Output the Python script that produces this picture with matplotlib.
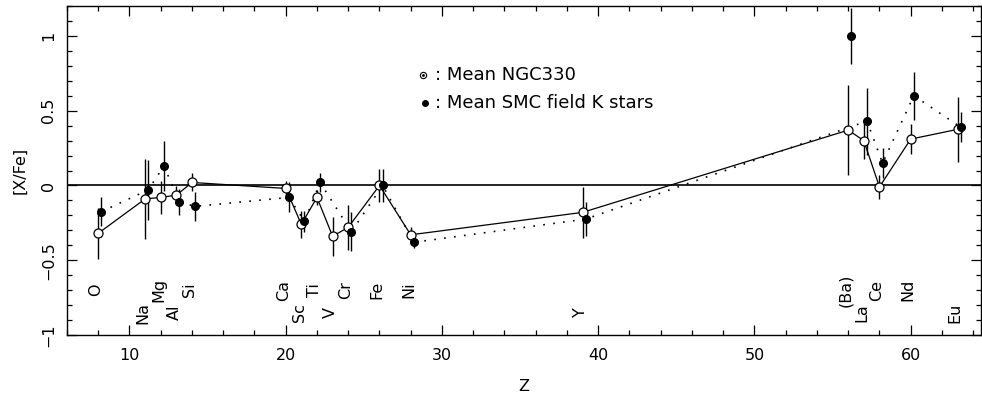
import matplotlib
matplotlib.use("Agg")
import matplotlib.pyplot as plt
from matplotlib.ticker import MultipleLocator, FixedLocator, FixedFormatter

plt.rcParams['font.family'] = ['DejaVu Sans']

# ---- data ----
z_ngc330 = [8, 11, 12, 13, 14, 20, 21, 22, 23, 24, 26, 28, 39, 56, 57, 58, 60, 63]
xfe_ngc330 = [-0.32, -0.09, -0.08, -0.065, 0.02, -0.02, -0.26, -0.08, -0.34, -0.28,
              0.0, -0.33, -0.18, 0.37, 0.30, -0.01, 0.31, 0.375]
err_ngc330 = [0.17, 0.27, 0.11, 0.06, 0.06, 0.05, 0.09, 0.05, 0.13, 0.15,
              0.11, 0.05, 0.17, 0.30, 0.12, 0.08, 0.10, 0.215]

z_smc = [8, 11, 12, 13, 14, 20, 21, 22, 24, 26, 28, 39, 56, 57, 58, 60, 63]
xfe_smc = [-0.175, -0.03, 0.13, -0.11, -0.14, -0.08, -0.24, 0.02, -0.31,
           0.0, -0.38, -0.225, 1.0, 0.43, 0.15, 0.60, 0.39]
err_smc = [0.095, 0.20, 0.17, 0.085, 0.095, 0.10, 0.07, 0.065, 0.13,
           0.11, 0.04, 0.115, 0.185, 0.225, 0.10, 0.16, 0.10]
# Ba (Z=56) of the field stars is not joined by the dotted line
smc_joined = [True, True, True, True, True, True, True, True, True,
              True, True, True, False, True, True, True, True]

element_names = ['O', 'Na', 'Mg', 'Al', 'Si', 'Ca', 'Sc', 'Ti', 'V', 'Cr', 'Fe',
                 'Ni', 'Y', '(Ba)', 'La', 'Ce', 'Nd', 'Eu']
element_z = [8, 11, 12, 13, 14, 20, 21, 22, 23, 24, 26, 28, 39, 56, 57, 58, 60, 63]
element_row = [0, 1, 0, 1, 0, 0, 1, 0, 1, 0, 0, 0, 1, 0, 1, 0, 0, 1]

ytick_vals = [-1, -0.5, 0, 0.5, 1]
ytick_labels = ['\u22121', '\u22120.5', '0', '0.5', '1']
xtick_vals = [10, 20, 30, 40, 50, 60]
xtick_labels = ['10', '20', '30', '40', '50', '60']

legend_labels = [': Mean NGC330', ': Mean SMC field K stars']

# ---- figure ----
fig = plt.figure(figsize=(9.82, 4.04), dpi=100)
ax = fig.add_axes([67/982, 69/404, 914/982, 329/404])

smc_offset = 0.2
x_smc = [z + smc_offset for z in z_smc]

ax.axhline(0, color='black', lw=1.2, zorder=1)

# NGC330 (open circles, solid line)
ax.errorbar(z_ngc330, xfe_ngc330, yerr=err_ngc330, fmt='none', ecolor='black',
            elinewidth=1.0, capsize=0, zorder=2)
ax.plot(z_ngc330, xfe_ngc330, '-', color='black', lw=0.9, zorder=2)
ax.plot(z_ngc330, xfe_ngc330, 'o', ms=6.5, mfc='white', mec='black', mew=0.9, zorder=3)

# SMC field K stars (filled circles, dotted line)
ax.errorbar(x_smc, xfe_smc, yerr=err_smc, fmt='none', ecolor='black',
            elinewidth=1.0, capsize=0, zorder=2)
xj = [x for x, j in zip(x_smc, smc_joined) if j]
yj = [y for y, j in zip(xfe_smc, smc_joined) if j]
ax.plot(xj, yj, linestyle=(0, (1, 5)), color='black', lw=1.2, zorder=2)
ax.plot(x_smc, xfe_smc, 'o', ms=5.5, mfc='black', mec='black', zorder=4)

# element labels
row_y = {0: -0.70, 1: -0.85}
for name, z, r in zip(element_names, element_z, element_row):
    ax.text(z - 0.15, row_y[r], name, rotation=90, ha='center', va='center',
            fontsize=11.5, color='black')

# legend (manual)
ax.plot([0.3895], [0.790], 'o', ms=4.5, mfc='white', mec='black', mew=0.8,
        transform=ax.transAxes)
ax.plot([0.3895], [0.790], 'o', ms=1.0, color='black', transform=ax.transAxes)
ax.plot([0.392], [0.705], 'o', ms=4.0, color='black', transform=ax.transAxes)
ax.text(0.4026, 0.790, legend_labels[0], transform=ax.transAxes, va='center',
        ha='left', fontsize=13)
ax.text(0.4026, 0.705, legend_labels[1], transform=ax.transAxes, va='center',
        ha='left', fontsize=13)

ax.set_xlim(6, 64.5)
ax.set_ylim(-1, 1.2)

ax.xaxis.set_major_locator(FixedLocator(xtick_vals))
ax.xaxis.set_major_formatter(FixedFormatter(xtick_labels))
ax.xaxis.set_minor_locator(MultipleLocator(2))
ax.yaxis.set_major_locator(FixedLocator(ytick_vals))
ax.yaxis.set_major_formatter(FixedFormatter(ytick_labels))
ax.yaxis.set_minor_locator(MultipleLocator(0.1))

ax.tick_params(which='both', direction='in', top=True, right=True, color='black')
ax.tick_params(which='major', length=7, width=0.9, labelsize=11.5)
ax.tick_params(which='minor', length=3.5, width=0.9)
ax.tick_params(axis='x', which='major', pad=9)
ax.tick_params(axis='y', which='major', pad=8)
for lab in ax.get_yticklabels():
    lab.set_rotation(90)
    lab.set_va('center')

for s in ax.spines.values():
    s.set_linewidth(1.0)

ax.set_xlabel('Z', fontsize=11.5, labelpad=12)
ax.set_ylabel('[X/Fe]', fontsize=11.5, labelpad=10)

fig.savefig('out.png', dpi=100)
